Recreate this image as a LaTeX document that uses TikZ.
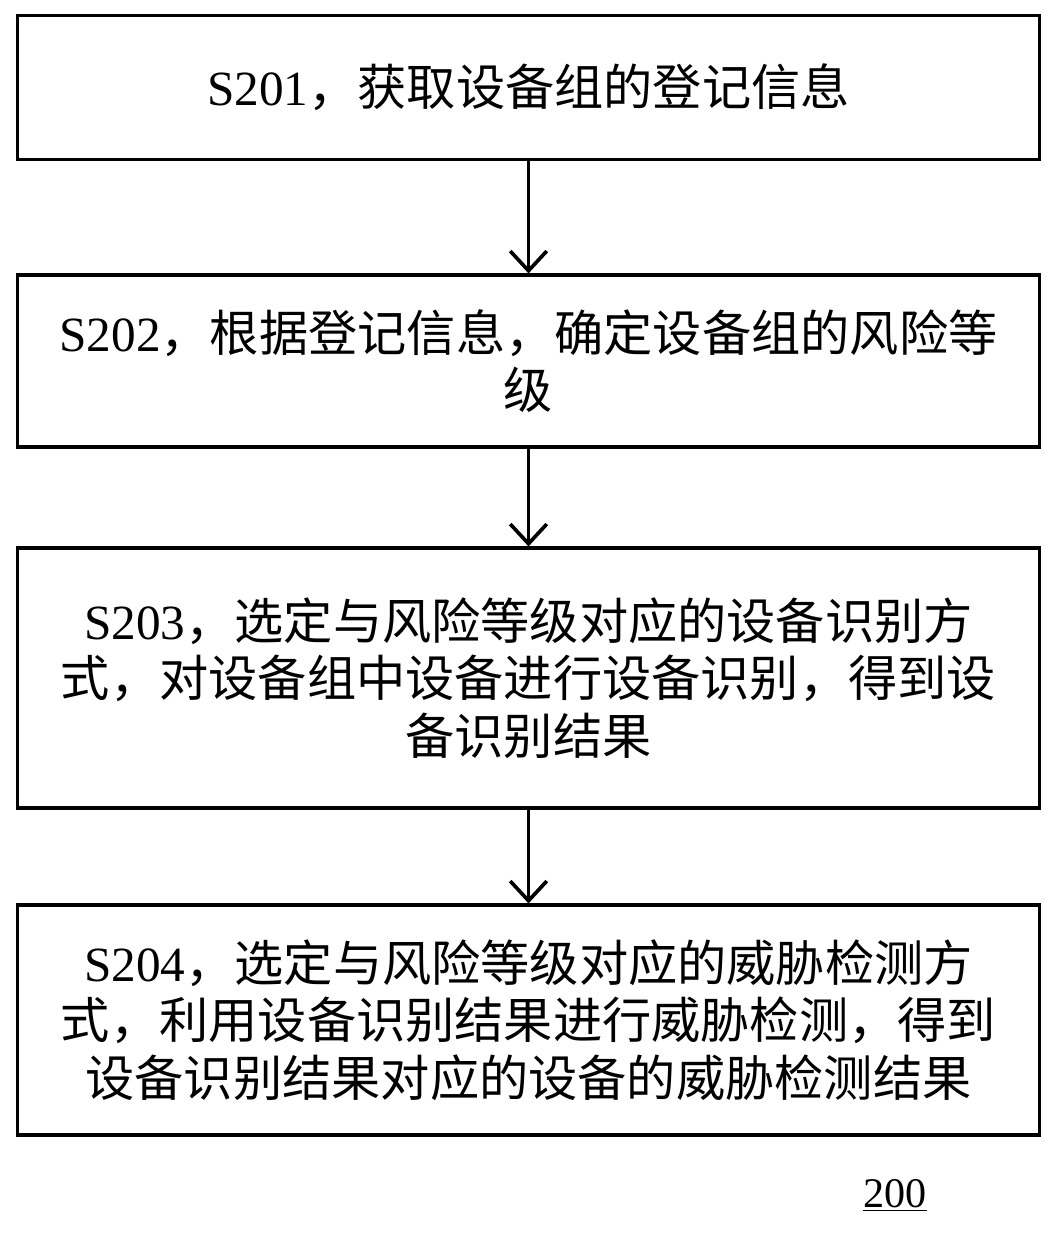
\documentclass[tikz,border=0pt]{standalone}
\usepackage{fontspec}
\setmainfont{Liberation Serif}
\newfontfamily\cjk{Noto Sans CJK SC}
\usetikzlibrary{arrows.meta,positioning}

\tikzset{
  stepbox/.style={draw, line width=2.2pt, minimum width=25.55cm, align=center,
    font=\fontsize{35}{41}\selectfont, inner sep=0pt},
  flow/.style={line width=2.6pt, -{Straight Barb[length=14pt,width=26pt,line width=2.6pt]}}
}

\begin{document}
\begin{tikzpicture}[x=0.025cm,y=-0.025cm]
  \useasboundingbox (0,0) rectangle (1061,1233);

  % Steps
  \node[stepbox, minimum height=3.6cm] (s201) at (528.5,87.5) {S201{\cjk ，获取设备组的登记信息}};
  \node[stepbox, minimum height=4.3cm] (s202) at (528.5,361) {S202{\cjk ，根据登记信息，确定设备组的风险等}\\{\cjk 级}};
  \node[stepbox, minimum height=6.5cm] (s203) at (528.5,678) {S203{\cjk ，选定与风险等级对应的设备识别方}\\{\cjk 式，对设备组中设备进行设备识别，得到设}\\{\cjk 备识别结果}};
  \node[stepbox, minimum height=5.75cm] (s204) at (528.5,1020) {S204{\cjk ，选定与风险等级对应的威胁检测方}\\{\cjk 式，利用设备识别结果进行威胁检测，得到}\\{\cjk 设备识别结果对应的设备的威胁检测结果}};

  % Arrows
  \draw[flow] (s201) -- (s202);
  \draw[flow] (s202) -- (s203);
  \draw[flow] (s203) -- (s204);

  % Figure number
  \node[font=\fontsize{30}{34}\selectfont] (num) at (895,1195) {\underline{200}};
\end{tikzpicture}
\end{document}
